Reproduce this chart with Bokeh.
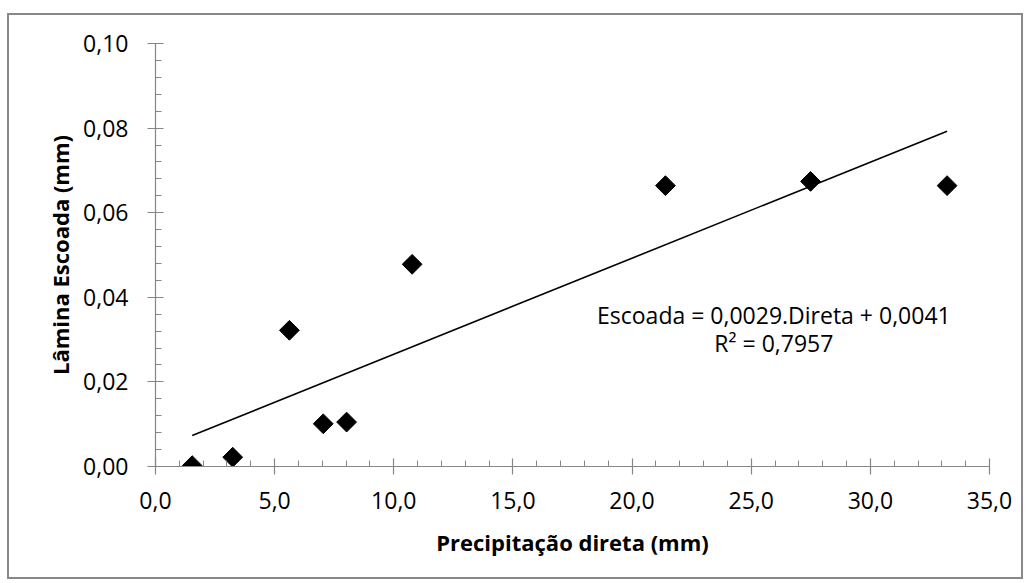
import numpy as np
from bokeh.plotting import figure
from bokeh.models import FixedTicker, Label, Range1d
from bokeh.embed import file_html
from bokeh.resources import INLINE

# ---- data ----
precip = [1.54, 3.24, 5.62, 7.04, 8.02, 10.77, 21.40, 27.49, 33.22]
lamina = [0.0002, 0.0022, 0.0322, 0.0101, 0.0105, 0.0478, 0.0664, 0.0674, 0.0664]

x_ticks = [0, 5, 10, 15, 20, 25, 30, 35]
x_tick_labels = ["0,0", "5,0", "10,0", "15,0", "20,0", "25,0", "30,0", "35,0"]
y_ticks = [0.0, 0.02, 0.04, 0.06, 0.08, 0.10]
y_tick_labels = ["0,00", "0,02", "0,04", "0,06", "0,08", "0,10"]

x_title = "Precipitação direta (mm)"
y_title = "Lâmina Escoada (mm)"
eq_text = "Escoada = 0,0029.Direta + 0,0041"
r2_text = "R² = 0,7957"

FONT = "Open Sans"
AXIS_GRAY = "#868686"

p = figure(width=1016, height=566, output_backend="svg", toolbar_location=None,
           x_range=Range1d(0, 35), y_range=Range1d(0, 0.10),
           min_border_left=146, min_border_top=28, min_border_right=36,
           min_border_bottom=115,
           styles={"margin-top": "13px", "margin-left": "7px",
                   "border": "2px solid #898989"})
p.background_fill_color = "white"
p.border_fill_color = "white"
p.outline_line_color = None
p.xgrid.visible = False
p.ygrid.visible = False

# trend line (least squares fit of the data)
slope, intercept = np.polyfit(precip, lamina, 1)
tx = np.array([min(precip), max(precip)])
p.line(tx, slope * tx + intercept, line_color="black", line_width=1.6)

# points: Excel-like diamonds (rotated squares)
p.scatter(precip, lamina, marker="square", angle=np.pi / 4, size=14,
          fill_color="black", line_color="black")

# axes
p.xaxis.ticker = FixedTicker(ticks=x_ticks, minor_ticks=list(np.arange(0, 35.01, 1.0)))
p.yaxis.ticker = FixedTicker(ticks=y_ticks, minor_ticks=list(np.round(np.arange(0, 0.1001, 0.004), 4)))
p.xaxis.major_label_overrides = dict(zip(x_ticks, x_tick_labels))
p.yaxis.major_label_overrides = dict(zip(y_ticks, y_tick_labels))

for ax in (p.xaxis[0], p.yaxis[0]):
    ax.axis_line_color = AXIS_GRAY
    ax.axis_line_width = 1.2
    ax.major_tick_line_color = AXIS_GRAY
    ax.minor_tick_line_color = AXIS_GRAY
    ax.major_tick_line_width = 1.2
    ax.minor_tick_line_width = 1
    ax.major_tick_in = 8
    ax.major_tick_out = 8
    ax.minor_tick_in = 6
    ax.minor_tick_out = 0
    ax.major_label_text_font = FONT
    ax.major_label_text_font_size = "23px"
    ax.major_label_text_color = "black"
    ax.axis_label_text_font = FONT
    ax.axis_label_text_font_size = "22px"
    ax.axis_label_text_font_style = "bold"
    ax.axis_label_text_color = "black"

p.xaxis.axis_label = x_title
p.yaxis.axis_label = y_title
p.xaxis.major_label_standoff = 17
p.yaxis.major_label_standoff = 19
p.xaxis.axis_label_standoff = 15
p.yaxis.axis_label_standoff = 5

# equation labels
p.add_layout(Label(x=25.95, y=0.0357, text=eq_text, text_align="center",
                   text_baseline="middle", text_font=FONT, text_font_size="23px",
                   text_color="black"))
p.add_layout(Label(x=25.95, y=0.0291, text=r2_text, text_align="center",
                   text_baseline="middle", text_font=FONT, text_font_size="23px",
                   text_color="black"))

open("out.html", "w").write(file_html(p, INLINE))
